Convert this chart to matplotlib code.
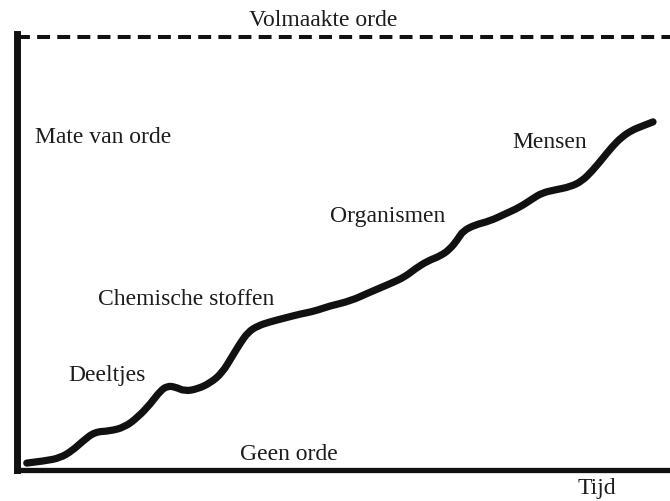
import matplotlib.pyplot as plt
from matplotlib.path import Path
from matplotlib.patches import PathPatch

# tijd (0-100) en mate van orde (0 = geen orde, 100 = volmaakte orde)
tijd = [1.5, 4.3, 6.6, 8.4, 10.1, 11.9, 14.2, 16.5, 18.5, 20.4, 21.9, 23.0, 24.2,
        25.7, 27.6, 29.6, 31.4, 32.9, 34.1, 35.4, 36.9, 38.7, 41.0, 43.3, 45.6,
        47.9, 51.0, 54.1, 57.1, 59.4, 60.9, 62.9, 64.8, 66.3, 67.5, 68.3, 70.1,
        72.4, 74.7, 77.0, 78.9, 80.4, 82.4, 84.7, 86.5, 88.1, 89.6, 91.1, 92.6,
        94.2, 95.7, 97.4]
orde = [1.6, 2.1, 2.8, 4.4, 6.7, 8.8, 9.0, 9.9, 12.2, 15.2, 18.2, 19.4, 19.2,
        18.2, 18.7, 20.1, 22.4, 26.1, 29.1, 31.9, 33.3, 34.2, 35.1, 36.0, 36.7,
        37.9, 39.0, 41.1, 43.0, 44.6, 46.4, 48.3, 49.4, 51.0, 53.3, 55.2, 56.6,
        57.5, 59.1, 60.7, 62.6, 64.0, 64.7, 65.4, 66.7, 69.1, 71.8, 74.6, 76.9,
        78.5, 79.4, 80.4]

# labels langs de curve: (tekst, tijd, orde)
fasen = [("Deeltjes", 7.8, 20.8),
         ("Chemische stoffen", 12.4, 38.3),
         ("Organismen", 47.9, 57.5),
         ("Mensen", 75.8, 74.6)]

plt.rcParams['font.family'] = ['Liberation Serif', 'DejaVu Serif']

fig = plt.figure(figsize=(6.7, 5.02), dpi=100)
ax = fig.add_axes([17 / 670, 31 / 502, 653 / 670, 436 / 502])
ax.set_xlim(0, 100)
ax.set_ylim(0, 100.7)

# vloeiende curve: meetpunten als controlepunten van kwadratische bezier-stukken
pts = list(zip(tijd, orde))
verts = [pts[0]]
codes = [Path.MOVETO]
for i in range(1, len(pts) - 1):
    mid = ((pts[i][0] + pts[i + 1][0]) / 2, (pts[i][1] + pts[i + 1][1]) / 2)
    verts += [pts[i], mid]
    codes += [Path.CURVE3, Path.CURVE3]
verts.append(pts[-1])
codes.append(Path.LINETO)
ax.add_patch(PathPatch(Path(verts, codes), fill=False, edgecolor='#111111',
                       lw=5.2, capstyle='round', joinstyle='round'))

# volmaakte orde als stippellijn bovenaan
ax.axhline(100, color='#111111', lw=2.9, linestyle=(0, (3.2, 1.8)))

for s in ['top', 'right']:
    ax.spines[s].set_visible(False)
ax.spines['left'].set_linewidth(5)
ax.spines['bottom'].set_linewidth(3.8)
ax.spines['left'].set_color('#111111')
ax.spines['bottom'].set_color('#111111')
ax.set_xticks([])
ax.set_yticks([])

fs = 17
kleur = '#1c1c1c'
for tekst, x, y in fasen:
    ax.text(x, y, tekst, fontsize=fs, color=kleur, va='baseline', ha='left')

ax.text(46.9, 102.8, "Volmaakte orde", fontsize=fs, color=kleur,
        ha='center', va='baseline', clip_on=False)
ax.text(2.8, 75.75, "Mate van orde", fontsize=fs, color=kleur, va='baseline')
ax.text(34.1, 2.5, "Geen orde", fontsize=fs, color=kleur, va='baseline')
ax.text(88.8, -5.3, "Tijd", fontsize=fs, color=kleur, ha='center',
        va='baseline', clip_on=False)

fig.savefig('out.png', dpi=100)
